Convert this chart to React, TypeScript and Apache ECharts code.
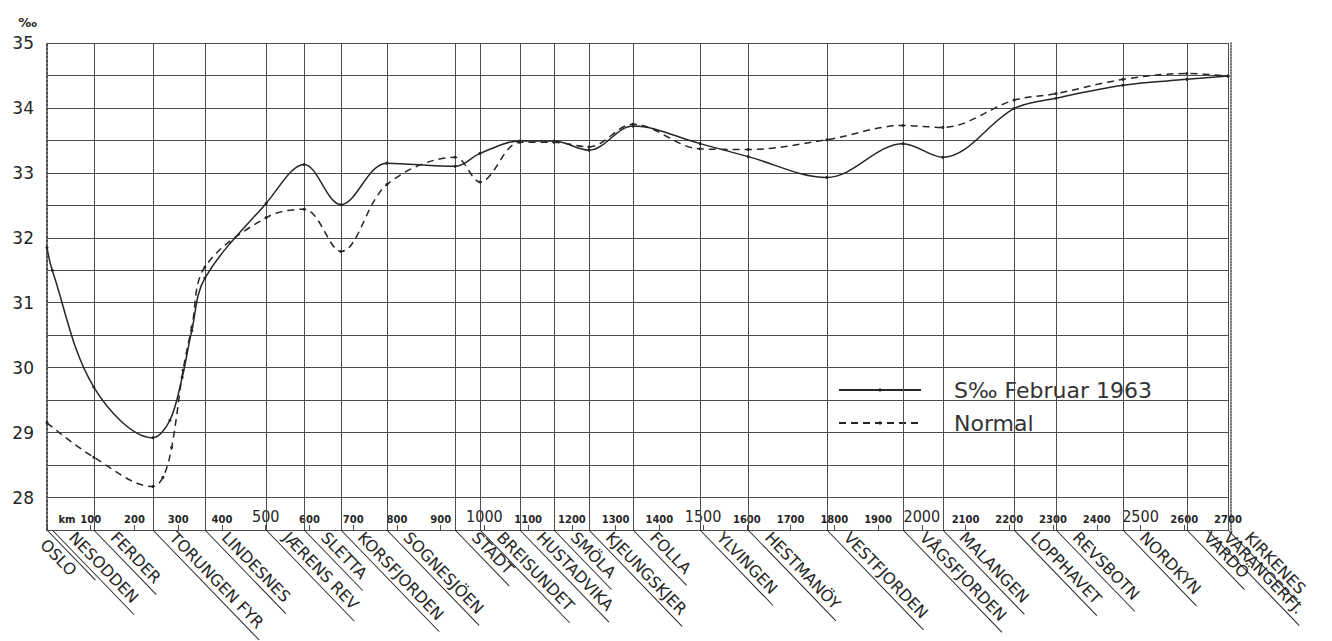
import React, { useEffect, useRef } from "react";
import * as echarts from "echarts";

// Stations along the coast (label anchors, km from Oslo)
const STATIONS = [
  "OSLO", "NESODDEN", "FERDER", "TORUNGEN FYR", "LINDESNES", "JÆRENS REV", "SLETTA",
  "KORSFJORDEN", "SOGNESJÖEN", "STADT", "BREISUNDET", "HUSTADVIKA", "SMÖLA",
  "KJEUNGSKJER", "FOLLA", "YLVINGEN", "HESTMANÖY", "VESTFJORDEN", "VÅGSFJORDEN",
  "MALANGEN", "LOPPHAVET", "REVSBOTN", "NORDKYN", "VARDÖ", "VARANGERFJ.", "KIRKENES",
];
const STATION_KM = [
  0, 12, 107, 242, 361, 501, 588, 672, 777, 933, 990, 1081, 1159, 1239, 1340,
  1493, 1603, 1783, 1957, 2048, 2211, 2307, 2460, 2606, 2652, 2700,
];
// Vertical grid lines drawn at station positions
const GRID_KM = [
  107, 242, 361, 501, 588, 672, 777, 933, 990, 1081, 1159, 1239, 1340, 1493,
  1603, 1783, 1957, 2048, 2211, 2307, 2460, 2606, 2700,
];

// S‰ Februar 1963
const FEB_KM = [
  0, 12, 107, 242, 281, 309, 331, 361, 501, 588, 672, 777, 933, 990, 1081, 1159,
  1239, 1340, 1493, 1603, 1783, 1957, 2048, 2211, 2307, 2460, 2606, 2700,
];
const FEB_1963 = [
  31.85, 31.5, 29.7, 28.92, 29.19, 29.85, 30.57, 31.38, 32.53, 33.13, 32.51, 33.15,
  33.1, 33.3, 33.49, 33.49, 33.35, 33.72, 33.45, 33.25, 32.93, 33.45, 33.24, 33.99,
  34.15, 34.35, 34.44, 34.49,
];

// Normal
const NORMAL_KM = [
  0, 107, 242, 265, 285, 311, 331, 361, 501, 588, 672, 777, 933, 990, 1081, 1159,
  1239, 1340, 1493, 1603, 1783, 1957, 2048, 2211, 2307, 2460, 2606, 2700,
];
const NORMAL = [
  29.15, 28.62, 28.17, 28.31, 28.77, 29.96, 30.62, 31.55, 32.31, 32.44, 31.79, 32.82,
  33.24, 32.86, 33.47, 33.47, 33.4, 33.75, 33.37, 33.36, 33.51, 33.73, 33.7, 34.12,
  34.22, 34.44, 34.53, 34.49,
];

const Y_LABELS = [28, 29, 30, 31, 32, 33, 34, 35];
const KM_MAJOR = [500, 1000, 1500, 2000, 2500];

const SERIES_FEB = "S‰ Februar 1963";
const SERIES_NORMAL = "Normal";

export default function App() {
  const ref = useRef<HTMLDivElement>(null);

  useEffect(() => {
    if (!ref.current) return;
    const chart = echarts.init(ref.current, null, { renderer: "svg" });
    const INK = "#262626";
    const GRIDC = "#4d4d4d";
    const LABEL_SIZE = 16;
    const LABEL_FONT = LABEL_SIZE + "px 'DejaVu Sans'";
    const ctx = document.createElement("canvas").getContext("2d");
    const measure = (t: string) => {
      if (!ctx) return t.length * 11;
      ctx.font = LABEL_FONT;
      return ctx.measureText(t).width;
    };
    const ang = (-46 * Math.PI) / 180;

    const option: any = {
      animation: false,
      backgroundColor: "#ffffff",
      grid: {
        left: 47,
        right: 104,
        top: 43,
        bottom: 111,
        containLabel: false,
        outerBoundsMode: "none",
      },
      legend: {
        data: [SERIES_FEB, SERIES_NORMAL],
        orient: "vertical",
        left: 833,
        top: 374,
        itemWidth: 82,
        itemHeight: 4,
        itemGap: 11,
        textStyle: {
          fontSize: 22,
          fontFamily: "'DejaVu Sans'",
          color: "#333",
          lineHeight: 22,
          padding: [0, 0, 0, 28],
        },
        selectedMode: false,
      },
      xAxis: {
        type: "value",
        min: 0,
        max: 2700,
        interval: 100,
        position: "bottom",
        axisLine: { show: true, onZero: false, lineStyle: { color: GRIDC, width: 1.2 } },
        axisTick: { show: true, inside: true, length: 5, lineStyle: { color: GRIDC } },
        splitLine: { show: false },
        axisLabel: {
          inside: true,
          margin: 5,
          showMinLabel: true,
          showMaxLabel: true,
          hideOverlap: false,
          color: INK,
          formatter: (v: number) => {
            if (v === 0) return "{km|km}";
            if (KM_MAJOR.indexOf(v) >= 0) return "{b|" + v + "}";
            return "{s|" + v + "}";
          },
          rich: {
            km: {
              fontSize: 10,
              fontWeight: "bold",
              fontFamily: "'DejaVu Sans'",
              color: INK,
              lineHeight: 12,
              padding: [0, 0, 0, 40],
            },
            s: {
              fontSize: 10,
              fontWeight: "bold",
              fontFamily: "'DejaVu Sans'",
              color: INK,
              lineHeight: 12,
            },
            b: {
              fontSize: 16,
              fontFamily: "'DejaVu Sans Condensed', sans-serif",
              color: INK,
              lineHeight: 17,
            },
          },
        },
      },
      yAxis: [
        {
          type: "value",
          min: 27.5,
          max: 35,
          interval: 0.5,
          name: "‰",
          nameLocation: "end",
          nameGap: 14,
          nameTextStyle: {
            fontSize: 13,
            fontWeight: "bold",
            color: INK,
            align: "right",
            padding: [0, 10, 0, 0],
            fontFamily: "'DejaVu Sans'",
          },
          axisLine: { show: true, lineStyle: { type: "dotted", color: GRIDC, width: 2 } },
          axisTick: { show: false },
          splitLine: { show: true, lineStyle: { color: GRIDC, width: 1 } },
          axisLabel: {
            margin: 13,
            fontSize: 17,
            color: INK,
            fontFamily: "'DejaVu Sans'",
            formatter: (v: number) => (Y_LABELS.indexOf(v) >= 0 ? String(v) : ""),
          },
        },
        {
          type: "value",
          min: 27.5,
          max: 35,
          interval: 0.5,
          position: "right",
          offset: 3,
          axisLine: { show: true, lineStyle: { type: "dotted", color: GRIDC, width: 1.5 } },
          axisTick: { show: false },
          axisLabel: { show: false },
          splitLine: { show: false },
        },
      ],
      series: [
        {
          name: SERIES_FEB,
          type: "line",
          yAxisIndex: 0,
          data: FEB_KM.map((k, i) => [k, FEB_1963[i]]),
          smooth: 0.35,
          symbol: "circle",
          symbolSize: 3,
          itemStyle: { color: INK },
          lineStyle: { color: INK, width: 1.5, type: "solid" },
          z: 5,
          markLine: {
            silent: true,
            symbol: ["none", "none"],
            label: { show: false },
            lineStyle: { color: GRIDC, width: 1, type: "solid" },
            data: GRID_KM.map((k) => ({ xAxis: k })),
            animation: false,
          },
        },
        {
          name: SERIES_NORMAL,
          type: "line",
          yAxisIndex: 0,
          data: NORMAL_KM.map((k, i) => [k, NORMAL[i]]),
          smooth: 0.35,
          symbol: "circle",
          symbolSize: 3,
          itemStyle: { color: INK },
          lineStyle: { color: INK, width: 1.5, type: [7, 5] },
          z: 5,
        },
        {
          name: "stations",
          type: "custom",
          yAxisIndex: 0,
          clip: false,
          silent: true,
          data: STATION_KM.map((k) => [k, 27.5]),
          renderItem: (params: any, api: any) => {
            const i = params.dataIndex;
            const name = STATIONS[i];
            const p = api.coord([api.value(0), api.value(1)]);
            const w = measure(name);
            const below = i === 0;
            return {
              type: "group",
              x: p[0],
              y: p[1],
              rotation: ang,
              children: [
                {
                  type: "line",
                  shape: { x1: 0, y1: 0, x2: w + 26, y2: 0 },
                  style: { stroke: INK, lineWidth: 1 },
                },
                {
                  type: "text",
                  x: below ? 6 : 17,
                  y: below ? 3 : -3,
                  style: {
                    text: name,
                    fill: INK,
                    fontSize: LABEL_SIZE,
                    fontFamily: "'DejaVu Sans'",
                    align: "left",
                    verticalAlign: below ? "top" : "bottom",
                  },
                },
              ],
            };
          },
          z: 3,
        },
      ],
    };

    chart.setOption(option);
    return () => chart.dispose();
  }, []);

  return (
    <div
      ref={ref}
      style={{ position: "fixed", left: 0, top: 0, width: 1332, height: 641, background: "#fff" }}
    />
  );
}
